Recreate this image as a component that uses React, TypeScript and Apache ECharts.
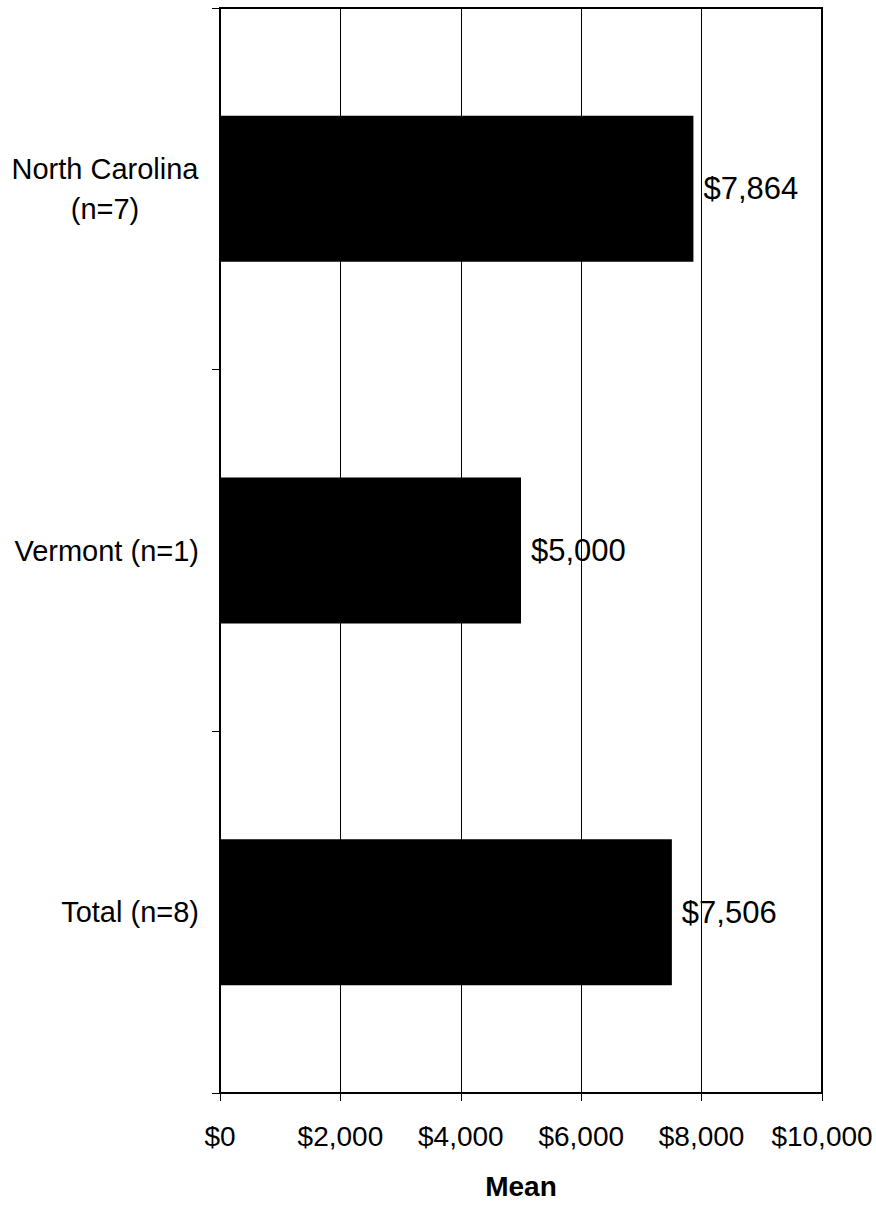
import React, { useEffect, useRef } from "react";
import * as echarts from "echarts";

const categories = ["North Carolina\n(n=7)", "Vermont (n=1)", "Total (n=8)"];
const meanValues = [7864, 5000, 7506];
const xMin = 0;
const xMax = 10000;
const xInterval = 2000;
const xAxisTitle = "Mean";

const fmt = (v: number) => "$" + Number(v).toLocaleString("en-US");

export default function App() {
  const ref = useRef<HTMLDivElement>(null);
  useEffect(() => {
    document.body.style.margin = "0";
    if (!ref.current) return;
    const chart = echarts.init(ref.current, null, { renderer: "svg" });
    const font = "'Liberation Sans', Arial, sans-serif";
    chart.setOption({
      animation: false,
      backgroundColor: "#fff",
      grid: {
        left: 220,
        right: 54,
        top: 8,
        bottom: 101,
        show: true,
        borderColor: "#000",
        borderWidth: 2,
        containLabel: false,
      },
      xAxis: {
        type: "value",
        min: xMin,
        max: xMax,
        interval: xInterval,
        name: xAxisTitle,
        nameLocation: "middle",
        nameGap: 79,
        nameTextStyle: {
          fontFamily: font,
          fontSize: 28,
          fontWeight: "bold",
          color: "#000",
          lineHeight: 28,
        },
        axisLine: { show: true, lineStyle: { color: "#000", width: 2 } },
        axisTick: { show: true, length: 8, lineStyle: { color: "#000", width: 1 } },
        splitLine: { show: true, lineStyle: { color: "#000", width: 1 } },
        axisLabel: {
          formatter: (v: number) => fmt(v),
          fontFamily: font,
          fontSize: 28,
          lineHeight: 28,
          color: "#000",
          margin: 29,
        },
      },
      yAxis: {
        type: "category",
        data: categories,
        inverse: true,
        axisLine: { show: true, lineStyle: { color: "#000", width: 2 } },
        axisTick: { show: true, length: 8, lineStyle: { color: "#000", width: 1 } },
        splitLine: { show: false },
        axisLabel: {
          fontFamily: font,
          fontSize: 29,
          lineHeight: 40,
          color: "#000",
          margin: 21,
          formatter: (v: string) =>
            v.includes("\n")
              ? v.split("\n").map((s) => `{c|${s}}`).join("\n")
              : `{r|${v}}`,
          rich: {
            c: {
              width: 188,
              align: "center",
              fontFamily: font,
              fontSize: 29,
              lineHeight: 40,
              color: "#000",
            },
            r: {
              fontFamily: font,
              fontSize: 29,
              lineHeight: 40,
              color: "#000",
            },
          },
        },
      },
      series: [
        {
          type: "bar",
          data: meanValues,
          barWidth: 146,
          itemStyle: { color: "#000" },
          label: {
            show: true,
            position: "right",
            distance: 10,
            formatter: (p: any) => fmt(p.value),
            fontFamily: font,
            fontSize: 31,
            color: "#000",
          },
        },
      ],
    });
    return () => chart.dispose();
  }, []);
  return <div ref={ref} style={{ width: 876, height: 1205 }} />;
}
